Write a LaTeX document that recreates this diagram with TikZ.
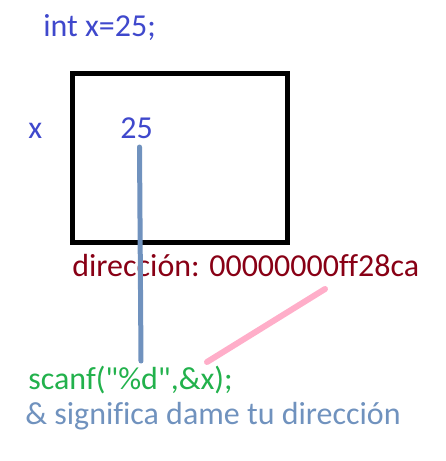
\documentclass[tikz,border=0pt]{standalone}
\usepackage{fontspec}
\setmainfont{Carlito}[Ligatures={TeX,NoCommon}]
\definecolor{paintblue}{RGB}{63,72,204}
\definecolor{paintred}{RGB}{136,0,21}
\definecolor{paintgreen}{RGB}{34,177,76}
\definecolor{paintgray}{RGB}{112,146,190}
\definecolor{paintpink}{RGB}{255,174,201}
\begin{document}
\begin{tikzpicture}[x=0.02cm,y=-0.02cm,font=\fontsize{18.2}{21}\selectfont,
		txt/.style={anchor=base west,inner sep=0pt},
		pen/.style={line width=0.1cm,line cap=round}]
		\useasboundingbox (0,0) rectangle (446,461);
		% declaracion y caja de memoria
		\node[txt,paintblue] (decl) at (43,36) {int x=25;};
		\node[draw,line width=0.1cm,minimum width=4.3cm,minimum height=3.39cm,inner sep=0pt] (mem) at (180,158.25) {};
		\node[txt,paintblue] (name) at (28,138) {x};
		\node[txt,paintblue] (val) at (120,138) {25};
		\node[txt,paintred] (addr) at (72,276) {dirección: 00000000ff28ca};
		\node[txt,paintgreen] (scan) at (28,389) {scanf(\textquotedbl\%d\textquotedbl,\&x);};
		\node[txt,paintgray] (note) at (25,424) {\& significa dame tu dirección};
		% trazos
		\coordinate (v1) at (139.5,147);
		\coordinate (v2) at (141,361);
		\coordinate (p1) at (325,289);
		\coordinate (p2) at (207,362);
		\draw[pen,paintgray] (v1)--(v2);
		\draw[pen,paintpink,line width=0.12cm] (p1)--(p2);
\end{tikzpicture}
\end{document}
